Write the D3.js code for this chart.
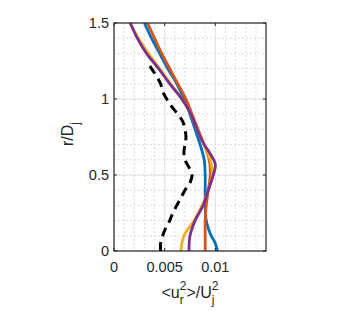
<!DOCTYPE html>
<html>
<head>
<meta charset="utf-8">
<script src="https://cdn.jsdelivr.net/npm/d3@7"></script>
<style>
  body { margin: 0; background: #fff; }
  text { font-family: "Liberation Sans", Arial, sans-serif; fill: #262626; }
</style>
</head>
<body>
<div id="chart"></div>
<script>
// radial position r/Dj and <ur^2>/Uj^2 for each series
var rBlue   = [0, 0.05, 0.1, 0.15, 0.2, 0.3, 0.4, 0.5, 0.6, 0.7, 0.8, 0.9, 1.0, 1.1, 1.2, 1.3, 1.4, 1.5]
  , uBlue   = [0.0102, 0.0100, 0.0096, 0.0093, 0.0091, 0.0090, 0.0090, 0.0090, 0.0089, 0.0085, 0.0080, 0.0075, 0.0069, 0.0062, 0.0053, 0.0045, 0.0037, 0.0030]
  , rOrange = [0, 0.1, 0.2, 0.3, 0.4, 0.5, 0.6, 0.7, 0.8, 0.9, 1.0, 1.1, 1.2, 1.3, 1.4, 1.5]
  , uOrange = [0.0090, 0.0090, 0.0090, 0.0091, 0.0093, 0.0095, 0.0094, 0.0089, 0.0083, 0.0077, 0.0071, 0.0063, 0.0055, 0.0047, 0.0040, 0.0033]
  , rYellow = [0, 0.1, 0.2, 0.3, 0.4, 0.5, 0.6, 0.7, 0.8, 0.9, 1.0, 1.1, 1.2, 1.3, 1.4, 1.5]
  , uYellow = [0.0066, 0.0069, 0.0079, 0.0087, 0.0093, 0.0097, 0.0095, 0.0089, 0.0082, 0.0076, 0.0067, 0.0056, 0.0045, 0.0034, 0.0024, 0.0016]
  , rPurple = [0, 0.1, 0.2, 0.3, 0.4, 0.5, 0.57, 0.65, 0.7, 0.8, 0.9, 1.0, 1.1, 1.2, 1.3, 1.4, 1.5]
  , uPurple = [0.0074, 0.0075, 0.0080, 0.0088, 0.0093, 0.0098, 0.0100, 0.0094, 0.0089, 0.0082, 0.0076, 0.0067, 0.0055, 0.0044, 0.0032, 0.0023, 0.0016]
  , rBlack  = [0, 0.05, 0.1, 0.15, 0.2, 0.25, 0.3, 0.35, 0.4, 0.45, 0.5, 0.55, 0.6, 0.65, 0.7, 0.75, 0.8, 0.85, 0.9, 0.95, 1.0, 1.05, 1.1, 1.15, 1.2, 1.25]
  , uBlack  = [0.0046, 0.0046, 0.0048, 0.0051, 0.0055, 0.0058, 0.0062, 0.0066, 0.0070, 0.0075, 0.0077, 0.0074, 0.0070, 0.0069, 0.0070, 0.0071, 0.0070, 0.0068, 0.0063, 0.0057, 0.0052, 0.0048, 0.0046, 0.0042, 0.0037, 0.0032]
  , xTicks  = [0, 0.005, 0.01]
  , xTickLabels = ["0", "0.005", "0.01"]
  , yTicks  = [0, 0.5, 1, 1.5]
  , yTickLabels = ["0", "0.5", "1", "1.5"]
  ;

var width = 358
  , height = 311
  , mLeft = 114
  , mTop = 23
  , plotW = 152
  , plotH = 228
  , axisColor = "#262626"
  ;

var svg = d3.select("#chart").append("svg")
  .attr("width", width)
  .attr("height", height);

var x = d3.scaleLinear().domain([0, 0.015]).range([mLeft, mLeft + plotW])
  , y = d3.scaleLinear().domain([0, 1.5]).range([mTop + plotH, mTop])
  ;

// grid: minor dotted, major solid
var minorX = d3.range(1, 15).map(function (i) { return i * 0.001; })
  , minorY = d3.range(1, 15).map(function (i) { return i * 0.1; })
  ;

svg.append("g").selectAll("line").data(minorX).enter().append("line")
  .attr("x1", function (d) { return x(d); })
  .attr("x2", function (d) { return x(d); })
  .attr("y1", mTop).attr("y2", mTop + plotH)
  .attr("stroke", "#d4d4d4").attr("stroke-width", 0.8)
  .attr("stroke-dasharray", "2,2");

svg.append("g").selectAll("line").data(minorY).enter().append("line")
  .attr("y1", function (d) { return y(d); })
  .attr("y2", function (d) { return y(d); })
  .attr("x1", mLeft).attr("x2", mLeft + plotW)
  .attr("stroke", "#d4d4d4").attr("stroke-width", 0.8)
  .attr("stroke-dasharray", "2,2");

svg.append("g").selectAll("line").data(xTicks).enter().append("line")
  .attr("x1", function (d) { return x(d); })
  .attr("x2", function (d) { return x(d); })
  .attr("y1", mTop).attr("y2", mTop + plotH)
  .attr("stroke", "#dedede").attr("stroke-width", 0.8);

svg.append("g").selectAll("line").data(yTicks).enter().append("line")
  .attr("y1", function (d) { return y(d); })
  .attr("y2", function (d) { return y(d); })
  .attr("x1", mLeft).attr("x2", mLeft + plotW)
  .attr("stroke", "#dedede").attr("stroke-width", 0.8);

// curves
var series = [
    { r: rBlack,  u: uBlack,  color: "#000000", dash: "9,6", w: 3 }
  , { r: rBlue,   u: uBlue,   color: "#0072BD" }
  , { r: rOrange, u: uOrange, color: "#D95319" }
  , { r: rYellow, u: uYellow, color: "#EDB120" }
  , { r: rPurple, u: uPurple, color: "#7E2F8E" }
];

var line = d3.line()
  .x(function (d) { return x(d[1]); })
  .y(function (d) { return y(d[0]); })
  .curve(d3.curveCatmullRom.alpha(0.5));

svg.append("clipPath").attr("id", "plotclip").append("rect")
  .attr("x", mLeft).attr("y", mTop).attr("width", plotW).attr("height", plotH);

svg.append("g").attr("clip-path", "url(#plotclip)")
  .selectAll("path").data(series).enter().append("path")
  .attr("d", function (s) { return line(d3.zip(s.r, s.u)); })
  .attr("fill", "none")
  .attr("stroke", function (s) { return s.color; })
  .attr("stroke-width", function (s) { return s.w || 2.8; })
  .attr("stroke-dasharray", function (s) { return s.dash || null; })
  .attr("stroke-linejoin", "round");

// box
svg.append("rect")
  .attr("x", mLeft).attr("y", mTop).attr("width", plotW).attr("height", plotH)
  .attr("fill", "none").attr("stroke", axisColor).attr("stroke-width", 1.2);

// inward ticks on all four sides
var tickLen = 3;
xTicks.forEach(function (d) {
  svg.append("line").attr("x1", x(d)).attr("x2", x(d))
    .attr("y1", mTop + plotH).attr("y2", mTop + plotH - tickLen)
    .attr("stroke", axisColor);
  svg.append("line").attr("x1", x(d)).attr("x2", x(d))
    .attr("y1", mTop).attr("y2", mTop + tickLen)
    .attr("stroke", axisColor);
});
yTicks.forEach(function (d) {
  svg.append("line").attr("y1", y(d)).attr("y2", y(d))
    .attr("x1", mLeft).attr("x2", mLeft + tickLen)
    .attr("stroke", axisColor);
  svg.append("line").attr("y1", y(d)).attr("y2", y(d))
    .attr("x1", mLeft + plotW).attr("x2", mLeft + plotW - tickLen)
    .attr("stroke", axisColor);
});

svg.append("g").selectAll("text").data(xTicks).enter().append("text")
  .attr("x", function (d) { return x(d); })
  .attr("y", 272)
  .attr("text-anchor", "middle")
  .attr("font-size", "14.5px")
  .text(function (d, i) { return xTickLabels[i]; });

svg.append("g").selectAll("text").data(yTicks).enter().append("text")
  .attr("x", mLeft - 5)
  .attr("y", function (d) { return y(d) + 5; })
  .attr("text-anchor", "end")
  .attr("font-size", "14.5px")
  .text(function (d, i) { return yTickLabels[i]; });

// labels with stacked super/subscripts
function richLabel (g, parts) {
  var cx = 0;
  parts.forEach(function (p) {
    if (p.t) {
      var t = g.append("text").attr("x", cx).attr("y", 0)
        .attr("font-size", "16px").text(p.t);
      cx += t.node().getComputedTextLength();
    } else {
      var w = 0;
      if (p.sup) {
        var s = g.append("text").attr("x", cx).attr("y", -8)
          .attr("font-size", "12px").text(p.sup);
        w = Math.max(w, s.node().getComputedTextLength());
      }
      if (p.sub) {
        var b = g.append("text").attr("x", cx).attr("y", 6)
          .attr("font-size", "12px").text(p.sub);
        w = Math.max(w, b.node().getComputedTextLength());
      }
      cx += w;
    }
  });
  g.selectAll("text").attr("x", function () {
    return +d3.select(this).attr("x") - cx / 2;
  });
}

var xLab = svg.append("g").attr("transform", "translate(190,298)");
richLabel(xLab, [{ t: "<u" }, { sup: "2", sub: "r" }, { t: ">/U" }, { sup: "2", sub: "j" }]);

var yLab = svg.append("g").attr("transform", "translate(73,134) rotate(-90)");
richLabel(yLab, [{ t: "r/D" }, { sub: "j" }]);
</script>
</body>
</html>
